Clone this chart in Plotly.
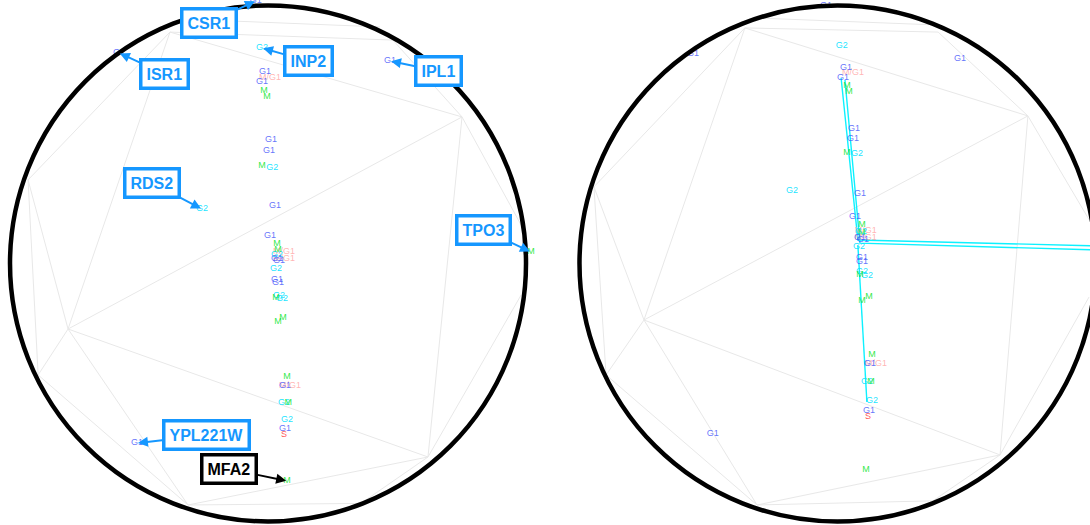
import plotly.graph_objects as go

# ---------------- data (unit-disk coordinates) ----------------
phases = ["G2", "G1", "M/G1", "G1", "M", "M", "G1", "G1", "M", "G2",
          "G1", "G1", "M", "M", "G2", "G1", "G1", "M/G1", "M/G1", "G2",
          "G1", "G1", "G2", "M", "G2", "M", "M", "M", "G1", "M/G1",
          "G2", "M", "G2", "G1", "S",
          "G1", "G1", "G1", "G2", "M", "G1", "M"]

left_x = [-0.023, -0.012, 0.008, -0.023, -0.016, -0.004, 0.012, 0.004, -0.023, 0.016,
          0.027, 0.008, 0.035, 0.039, 0.035, 0.035, 0.043, 0.062, 0.062, 0.031,
          0.035, 0.039, 0.043, 0.031, 0.054, 0.039, 0.058, 0.074, 0.066, 0.085,
          0.062, 0.078, 0.074, 0.066, 0.062,
          -0.047, -0.578, 0.473, -0.256, 1.019, -0.508, 0.074]
left_y = [0.835, 0.742, 0.719, 0.703, 0.669, 0.645, 0.479, 0.436, 0.378, 0.370,
          0.223, 0.107, 0.076, 0.052, 0.033, 0.017, 0.010, 0.045, 0.018, -0.021,
          -0.064, -0.076, -0.126, -0.134, -0.138, -0.227, -0.211, -0.440, -0.475, -0.475,
          -0.541, -0.541, -0.607, -0.641, -0.665,
          1.018, 0.816, 0.785, 0.211, 0.045, -0.696, -0.843]

right_x = [0.017, 0.033, 0.060, 0.021, 0.037, 0.045, 0.064, 0.060, 0.037, 0.076,
           0.087, 0.068, 0.095, 0.095, 0.091, 0.087, 0.099, 0.110, 0.110, 0.083,
           0.095, 0.095, 0.095, 0.087, 0.114, 0.095, 0.122, 0.134, 0.126, 0.149,
           0.114, 0.130, 0.134, 0.122, 0.118,
           -0.045, -0.560, 0.475, -0.176, 1.014, -0.483, 0.110]
right_y = [0.843, 0.758, 0.738, 0.719, 0.688, 0.665, 0.521, 0.483, 0.428, 0.424,
           0.269, 0.180, 0.149, 0.118, 0.122, 0.099, 0.091, 0.126, 0.099, 0.064,
           0.021, 0.006, -0.033, -0.045, -0.048, -0.145, -0.130, -0.355, -0.390, -0.390,
           -0.459, -0.459, -0.533, -0.572, -0.595,
           1.000, 0.812, 0.793, 0.281, 0.056, -0.661, -0.800]

# labelled genes: index into the point lists
gene_names = ["CSR1", "ISR1", "IPL1", "RDS2", "TPO3", "YPL221W", "MFA2", "INP2"]
gene_index = [35, 36, 37, 38, 39, 40, 41, 0]

# trajectories in the right disk
paths_x = [[0.014, 0.079, 1.014], [0.029, 0.087, 1.014], [0.079, 0.114]]
paths_y = [[0.719, 0.091, 0.068], [0.711, 0.079, 0.052], [0.072, -0.537]]

# background tessellation
left_vertices = {"V1": (-0.380, 0.897), "V3": (0.752, 0.568), "V4": (-0.775, -0.254),
                 "V5": (0.620, -0.750), "V6": (-0.310, -0.936), "F": (-0.930, 0.324),
                 "G": (-0.891, -0.432), "I": (0.484, 0.866), "J": (0.981, 0.149),
                 "K": (0.981, -0.122), "L": (0.360, -0.930),
                 "T1": (-0.244, 0.944), "T2": (0.434, 0.917)}
right_vertices = {"V1": (-0.359, 0.913), "V3": (0.738, 0.572), "V4": (-0.750, -0.219),
                  "V5": (0.630, -0.742), "V6": (-0.312, -0.936), "F": (-0.944, 0.297),
                  "G": (-0.897, -0.432), "I": (0.390, 0.897), "J": (0.975, 0.170),
                  "K": (0.975, -0.130), "L": (0.370, -0.920),
                  "T1": (-0.300, 0.951), "T2": (0.397, 0.924)}
edges = [("V1", "V3"), ("V3", "V4"), ("V4", "V5"), ("V5", "V6"), ("V4", "V6"),
         ("V1", "V4"), ("V1", "F"), ("F", "V4"), ("F", "G"), ("V4", "G"),
         ("G", "V6"), ("V3", "V5"), ("V3", "I"), ("V1", "I"), ("V3", "J"),
         ("V5", "K"), ("V5", "L"), ("V6", "L"), ("T1", "T2")]

phase_colors = {"G1": "rgba(60,80,250,0.8)", "G2": "rgba(0,225,255,0.9)",
                "M": "rgba(20,230,50,0.9)", "S": "rgba(255,50,50,0.85)",
                "M/G1": "rgba(255,140,140,0.65)"}

BLUE = "#1597ff"

fig = go.Figure()

def add_edges(vertices, xa, ya):
    xs, ys = [], []
    for a, b in edges:
        xs += [vertices[a][0], vertices[b][0], None]
        ys += [vertices[a][1], vertices[b][1], None]
    fig.add_trace(go.Scatter(x=xs, y=ys, mode="lines", xaxis=xa, yaxis=ya,
                             line=dict(color="#e8e8e8", width=1), hoverinfo="skip",
                             showlegend=False))

def add_points(px, py, xa, ya):
    for ph in ["M/G1", "S", "G2", "M", "G1"]:
        idx = [i for i, p in enumerate(phases) if p == ph]
        fig.add_trace(go.Scatter(
            x=[px[i] for i in idx], y=[py[i] for i in idx], text=[ph] * len(idx),
            mode="text", xaxis=xa, yaxis=ya, textposition="middle center",
            textfont=dict(family="Liberation Sans", size=9, color=phase_colors[ph]),
            hoverinfo="skip", showlegend=False))

add_edges(left_vertices, "x", "y")
add_edges(right_vertices, "x2", "y2")

for qx, qy in zip(paths_x, paths_y):
    fig.add_trace(go.Scatter(x=qx, y=qy, mode="lines", xaxis="x2", yaxis="y2",
                             line=dict(color="rgba(0,240,255,0.95)", width=1.4),
                             hoverinfo="skip", showlegend=False))

add_points(left_x, left_y, "x", "y")
add_points(right_x, right_y, "x2", "y2")

# circles (disk boundary)
for xr, yr in [("x", "y"), ("x2", "y2")]:
    fig.add_shape(type="circle", xref=xr, yref=yr, x0=-1, x1=1, y0=-1, y1=1,
                  line=dict(color="black", width=4.5), layer="above")

# gene call-outs (left disk)
offsets = {"CSR1": (-47, 22), "ISR1": (46, 21), "IPL1": (48, 10), "RDS2": (-50, -26),
           "TPO3": (-47, -22), "YPL221W": (70, -8), "MFA2": (-58, -12), "INP2": (46, 13)}
for name, i in zip(gene_names, gene_index):
    col = "black" if name == "MFA2" else BLUE
    ax, ay = offsets[name]
    fig.add_annotation(x=left_x[i], y=left_y[i], xref="x", yref="y", text="<b>%s</b>" % name,
                       showarrow=True, ax=ax, ay=ay, arrowhead=2, arrowsize=1,
                       arrowwidth=2, arrowcolor=col, standoff=1,
                       font=dict(family="Liberation Sans", size=16, color=col),
                       bgcolor="white", bordercolor=col, borderwidth=3.5, borderpad=4)

axis_common = dict(visible=False, showgrid=False, zeroline=False, fixedrange=True)
fig.update_layout(
    width=1090, height=525, autosize=False,
    margin=dict(l=0, r=0, t=0, b=0),
    paper_bgcolor="white", plot_bgcolor="white",
    xaxis=dict(domain=[0, 0.5], range=[-1.0388, 1.0736], **axis_common),
    yaxis=dict(domain=[0, 1], range=[-1.0136, 1.0213], **axis_common),
    xaxis2=dict(domain=[0.5, 1], range=[-1.1337, 0.9787], **axis_common),
    yaxis2=dict(domain=[0, 1], range=[-1.0136, 1.0213], anchor="x2", **axis_common),
    showlegend=False,
)

fig.write_html("out.html")
